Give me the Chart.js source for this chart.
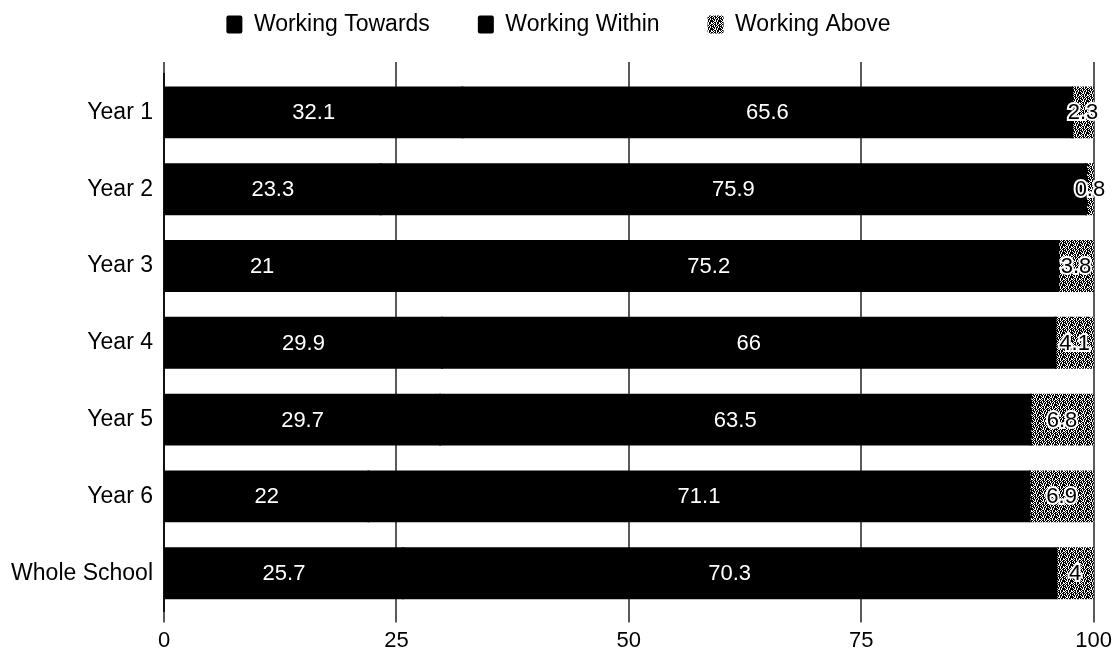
<!DOCTYPE html>
<html>
<head>
<meta charset="utf-8">
<title>Attainment by year group</title>
<script src="https://cdn.jsdelivr.net/npm/chart.js@4"></script>
<style>
    html, body { margin: 0; padding: 0; background: #fff; }
    #wrap { width: 1117px; height: 658px; position: relative; }
</style>
</head>
<body>
<div id="wrap"><canvas id="chart-attainment"></canvas></div>
<script>
// Percentages of pupils per band, one row per year group

const yearGroups = ['Year 1', 'Year 2', 'Year 3', 'Year 4', 'Year 5', 'Year 6', 'Whole School'];

const workingTowards = [32.1, 23.3, 21, 29.9, 29.7, 22, 25.7];
const workingWithin  = [65.6, 75.9, 75.2, 66, 63.5, 71.1, 70.3];
const workingAbove   = [2.3, 0.8, 3.8, 4.1, 6.8, 6.9, 4];

const axisTicks = [0, 25, 50, 75, 100];

const FONT = "'Liberation Sans', Arial, sans-serif";

// stippled grey fill for the "above" band
function stipple(){
    const rows = [
        '#.##.#.#',
        '.#.##.##',
        '##.#.#.#',
        '.##.##.#',
        '#.#.#.##',
        '##..#.##',
        '#.##.##.',
        '.#.#.##.'
    ];
    const c = document.createElement('canvas');
    c.width = 8;
    c.height = 8;
    const g = c.getContext('2d');
    g.fillStyle = '#fff';
    g.fillRect(0, 0, 8, 8);
    g.fillStyle = '#000';
    rows.forEach(function(row, y){
        for(let x = 0; x < row.length; x++){
            if(row[x] === '#') g.fillRect(x, y, 1, 1);
        }
    });
    return g.createPattern(c, 'repeat');
}

// value written in the middle of each segment
const segmentLabels = {
    id: 'segmentLabels',
    afterDatasetsDraw(chart){
        const ctx = chart.ctx;
        ctx.save();
        ctx.font = '22px ' + FONT;
        ctx.textAlign = 'center';
        ctx.textBaseline = 'middle';
        chart.data.datasets.forEach(function(ds, i){
            const meta = chart.getDatasetMeta(i);
            meta.data.forEach(function(bar, j){
                const p = bar.getProps(['x', 'y', 'base'], true);
                const cx = (p.x + p.base) / 2;
                const txt = String(ds.data[j]);
                if(i === 2){
                    ctx.lineWidth = 4;
                    ctx.strokeStyle = '#fff';
                    ctx.strokeText(txt, cx, p.y + 1);
                    ctx.fillStyle = '#000';
                } else {
                    ctx.fillStyle = '#fff';
                }
                ctx.fillText(txt, cx, p.y + 1);
            });
        });
        ctx.restore();
    }
};

const gridColor = '#5a5a5a';

const data = {
    labels: yearGroups,
    datasets: [{
        label: 'Working Towards',
        data: workingTowards,
        backgroundColor: '#000'
    }, {
        label: 'Working Within',
        data: workingWithin,
        backgroundColor: '#000'
    }, {
        label: 'Working Above',
        data: workingAbove,
        backgroundColor: stipple()
    }]
};

const config = {
    type: 'bar',
    data: data,
    options: {
        indexAxis: 'y',
        responsive: true,
        maintainAspectRatio: false,
        animation: false,
        datasets: {
            bar: { categoryPercentage: 1, barPercentage: 0.65, inflateAmount: 1 }
        },
        // legend padding is wide for the item spacing, pull it back up
        layout: { padding: { top: -35, right: 0, bottom: -1, left: 0 } },
        plugins: {
            tooltip: { enabled: false },
            legend: {
                position: 'top',
                labels: {
                    color: '#000',
                    font: { family: FONT, size: 23 },
                    boxWidth: 16,
                    boxHeight: 18,
                    useBorderRadius: true,
                    borderRadius: 2,
                    padding: 48
                }
            }
        },
        scales: {
            x: {
                stacked: true,
                min: 0,
                max: 100,
                afterBuildTicks: function(scale){
                    scale.ticks = axisTicks.map(function(v){ return { value: v }; });
                },
                grid: { color: gridColor, lineWidth: 2, tickLength: 11 },
                border: { display: false },
                ticks: {
                    color: '#000',
                    padding: 5,
                    font: { family: FONT, size: 22 }
                }
            },
            xTop: {
                type: 'linear',
                position: 'top',
                min: 0,
                max: 100,
                afterBuildTicks: function(scale){
                    scale.ticks = axisTicks.map(function(v){ return { value: v }; });
                },
                afterFit: function(scale){ scale.height = 28; },
                grid: { color: gridColor, lineWidth: 2, drawOnChartArea: false, tickLength: 12 },
                border: { display: false },
                ticks: { display: false }
            },
            y: {
                stacked: true,
                grid: { display: false },
                border: { color: '#111', width: 2 },
                afterFit: function(scale){ scale.width = 164; },
                ticks: {
                    color: '#000',
                    padding: 3,
                    font: { family: FONT, size: 23 }
                }
            }
        }
    },
    plugins: [segmentLabels]
};

const chart1 = new Chart(document.getElementById('chart-attainment'), config);
</script>
</body>
</html>
